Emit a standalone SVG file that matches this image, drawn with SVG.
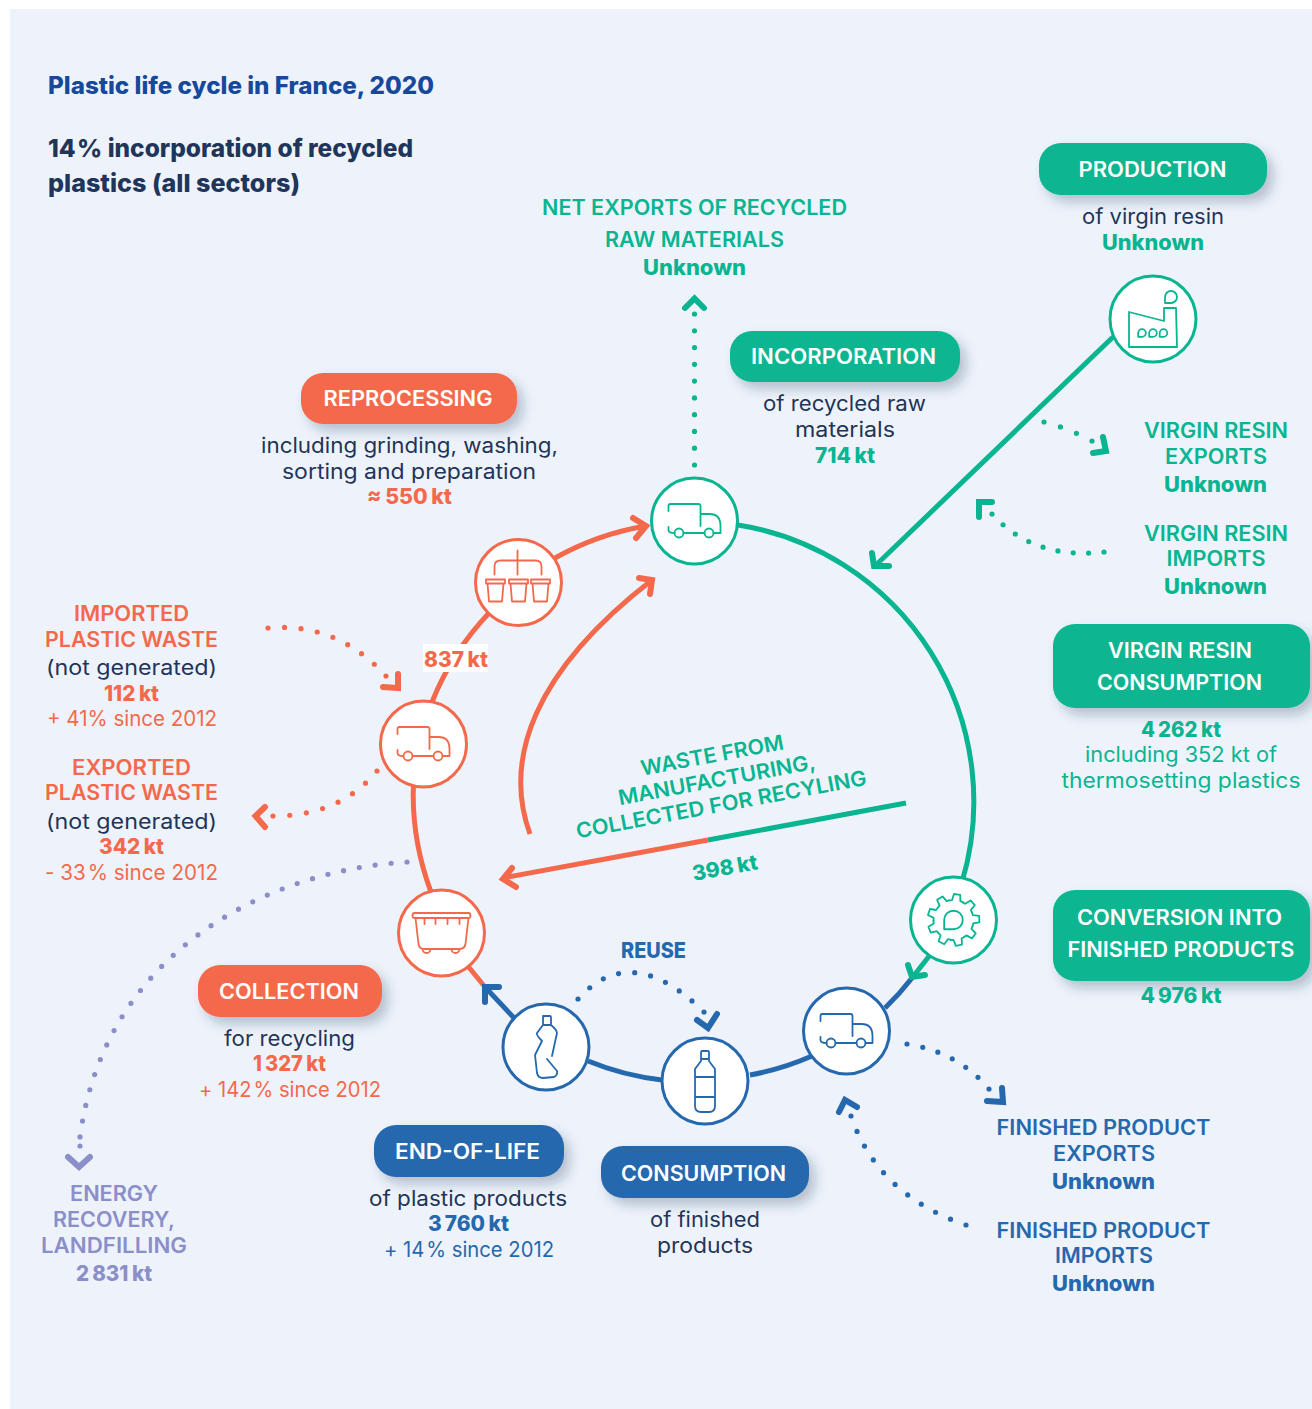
<svg xmlns="http://www.w3.org/2000/svg" width="1312" height="1409" viewBox="0 0 1312 1409">
<style>
text{font-family:"Inter","Liberation Sans",sans-serif;text-anchor:middle;font-size:21px;font-weight:400}
.l{text-anchor:start}
.cap{font-weight:600}
.b{font-weight:800;word-spacing:-1px}
.t{word-spacing:-4px}
.b .t{word-spacing:-1.500px}
.w{fill:#fff;font-weight:600}
.nv{fill:#1f3559}
.g{fill:#09b591}.o{fill:#f4694c}.u{fill:#2668ae}.p{fill:#8b8fc9}
.pill{filter:url(#sh)}
.ring{fill:none;stroke-width:5;stroke-linecap:butt}
.head{fill:none;stroke-width:6;stroke-linecap:round;stroke-linejoin:miter}
.dot{fill:none;stroke-width:5.200;stroke-linecap:round;stroke-dasharray:0 .9999}
.sg{stroke:#09b591}.so{stroke:#f4694c}.su{stroke:#2668ae}.sp{stroke:#8b8fc9}
.node{fill:#fff;stroke-width:3}
.ic{fill:none;stroke-width:1.800;stroke-linecap:round;stroke-linejoin:round}
</style>
<defs>
<filter id="sh" x="-20%" y="-40%" width="150%" height="200%"><feDropShadow dx="6" dy="7" stdDeviation="6" flood-color="#1f3559" flood-opacity="0.28"/></filter>
<g id="truck"><path d="M-26 -10V-15Q-26 -17 -24 -17H4Q6 -17 6 -15V5M6 -7H15Q26 -7 26 5V12H19M-11 12H10M-26 6V9Q-26 12 -20 12"/><circle cx="-15.500" cy="12" r="4.500"/><circle cx="14.500" cy="12" r="4.500"/></g>
<path id="tooth" d="M-6.840 -18.790A20 20 0 0 1 -4.160 -19.560L-3.170 -25.800L3.170 -25.800L4.160 -19.560A20 20 0 0 1 6.840 -18.790"/>
<path id="drop" d="M-1 1V0A1 1 0 1 1 0 1Z"/>
<path id="cup" d="M-9.500 -3H9.500V1H-9.500ZM-8 1L-6.500 19H6.500L8 1"/>
</defs>
<rect x="10" y="9" width="1302" height="1400" fill="#eef3fb"/>

<g id="connectors">
<path class="ring sg" d="M738 525A280 280 0 0 1 962 882"/>
<path class="ring sg" d="M930 955L912 978"/>
<path class="ring su" d="M912 978A280 280 0 0 1 885 1008"/>
<path class="ring su" d="M812 1056A280 280 0 0 1 750 1075"/>
<path class="ring su" d="M662 1080A280 280 0 0 1 588 1061"/>
<path class="ring su" d="M515 1019L485 987"/>
<path class="ring so" d="M485 987L467 965"/>
<path class="ring so" d="M431 892A280 280 0 0 1 416 755"/>
<path class="ring so" d="M432 702A280 280 0 0 1 490 612"/>
<path class="ring so" d="M555 558A280 280 0 0 1 646 526"/>
<path class="ring so" d="M530 834C503 760 533 672 652 580" stroke-linecap="round"/>
<path class="ring sg" d="M1113 337L875 566"/>
<path class="ring sg" d="M906 803L708 840" stroke-linecap="round"/>
<path class="ring so" d="M708 840L503 878"/>
<polyline class="head so" points="633,518 646,526 636,538"/>
<polyline class="head so" points="639,578 652,580 650,594"/>
<polyline class="head so" points="512,868 503,879 516,887"/>
<polyline class="head sg" points="872,553 874,566 889,566"/>
<polyline class="head sg" points="908,965 912,977 925,975"/>
<polyline class="head su" points="485,1002 485,987 499,987"/>
<path class="dot sg" pathLength="9" d="M694.500 465V314"/>
<polyline class="head sg" points="685,308 694.500,298.500 704,308"/>
<path class="dot sg" pathLength="3" d="M1044 422Q1068 428 1092 441"/>
<polyline class="head sg" points="1103,437 1106,451 1093,453"/>
<path class="dot sg" pathLength="8" d="M1104 552Q1034 560 992 514"/>
<polyline class="head sg" points="992,502 979,502 979,517"/>
<path class="dot so" pathLength="8" d="M268 628Q337 622 386 676"/>
<polyline class="head so" points="398,674 398,688 383,687"/>
<path class="dot so" pathLength="7" d="M377 771Q340 816 273 816"/>
<polyline class="head so" points="265,807 255.500,816 265,827"/>
<path class="dot sp" pathLength="29" d="M407 862C270 870 105 950 80 1137"/>
<path class="dot sp" d="M80 1146L80 1146.010"/>
<polyline class="head sp" points="68,1157 79,1167 90,1157"/>
<path class="dot su" pathLength="9" d="M578 999Q631 940 704 1012"/>
<polyline class="head su" points="697,1020 708,1028 717,1014"/>
<path class="dot su" pathLength="6" d="M907 1044Q958 1052 989 1089"/>
<polyline class="head su" points="987,1101 1003,1102 1002,1088"/>
<path class="dot su" pathLength="10" d="M966 1225Q878 1195 851 1116"/>
<polyline class="head su" points="839,1112 845,1100 857,1107"/>
</g>

<g id="title">
<text class="l" x="48" y="94" style="font-size:24px;font-weight:800;fill:#16499b" textLength="386" lengthAdjust="spacingAndGlyphs">Plastic life cycle in France, 2020</text>
<text class="l nv" x="48" y="157" style="font-size:25px;font-weight:800" textLength="365" lengthAdjust="spacingAndGlyphs"><tspan class="t">14 %</tspan> incorporation of recycled</text>
<text class="l nv" x="48" y="192" style="font-size:25px;font-weight:800" textLength="252" lengthAdjust="spacingAndGlyphs">plastics (all sectors)</text>
</g>

<g id="node-net-exports">
<text class="cap g" x="694.500" y="215" textLength="305" lengthAdjust="spacingAndGlyphs">NET EXPORTS OF RECYCLED</text>
<text class="cap g" x="694.500" y="247" textLength="179" lengthAdjust="spacingAndGlyphs">RAW MATERIALS</text>
<text class="b g" x="694.500" y="275" textLength="103" lengthAdjust="spacingAndGlyphs">Unknown</text>
</g>

<g id="node-production">
<rect class="pill g" x="1039" y="143" width="228" height="52" rx="22"/>
<text class="w" x="1152.500" y="177" textLength="148" lengthAdjust="spacingAndGlyphs">PRODUCTION</text>
<text class="nv" x="1153" y="224" textLength="142" lengthAdjust="spacingAndGlyphs">of virgin resin</text>
<text class="b g" x="1153" y="250" textLength="102" lengthAdjust="spacingAndGlyphs">Unknown</text>
<circle class="node sg" cx="1153" cy="319" r="43"/>
<g class="ic sg" transform="translate(1153 319)"><path d="M-24 -7L11 2V-11H23L24 28H-24Z"/><use href="#drop" transform="translate(18 -22) scale(6)" style="stroke-width:.3"/><use href="#drop" transform="translate(-11 14) scale(3.800)" style="stroke-width:.47"/><use href="#drop" transform="translate(0 14) scale(3.800)" style="stroke-width:.47"/><use href="#drop" transform="translate(10.500 14) scale(3.800)" style="stroke-width:.47"/></g>
</g>

<g id="node-incorporation">
<rect class="pill g" x="730" y="331" width="230" height="51" rx="22"/>
<text class="w" x="843.500" y="364" textLength="185" lengthAdjust="spacingAndGlyphs">INCORPORATION</text>
<text class="nv" x="844.500" y="411" textLength="163" lengthAdjust="spacingAndGlyphs">of recycled raw</text>
<text class="nv" x="845" y="437" textLength="100" lengthAdjust="spacingAndGlyphs">materials</text>
<text class="b g" x="845" y="463" textLength="60" lengthAdjust="spacingAndGlyphs">714 kt</text>
<circle class="node sg" cx="694.500" cy="521" r="43"/>
<use href="#truck" class="ic sg" transform="translate(694.500 521)"/>
</g>

<g id="node-reprocessing">
<rect class="pill o" x="301" y="373" width="216" height="51" rx="22"/>
<text class="w" x="408" y="406" textLength="169" lengthAdjust="spacingAndGlyphs">REPROCESSING</text>
<text class="nv" x="409.500" y="453" textLength="297" lengthAdjust="spacingAndGlyphs">including grinding, washing,</text>
<text class="nv" x="409" y="479" textLength="254" lengthAdjust="spacingAndGlyphs">sorting and preparation</text>
<text class="b o" x="409.500" y="504" textLength="85" lengthAdjust="spacingAndGlyphs">≈ 550 kt</text>
<circle class="node so" cx="518.500" cy="582.500" r="43"/>
<g class="ic so" transform="translate(518.500 582.500)"><path d="M-1 -32V-8M-24 -8V-16Q-24 -22 -18 -22H17Q23 -22 23 -16V-8"/><use href="#cup" x="-23"/><use href="#cup"/><use href="#cup" x="22"/></g>
</g>

<g id="node-virgin-exports">
<text class="cap g" x="1216" y="438" textLength="144" lengthAdjust="spacingAndGlyphs">VIRGIN RESIN</text>
<text class="cap g" x="1216" y="464" textLength="102" lengthAdjust="spacingAndGlyphs">EXPORTS</text>
<text class="b g" x="1215.500" y="492" textLength="103" lengthAdjust="spacingAndGlyphs">Unknown</text>
</g>
<g id="node-virgin-imports">
<text class="cap g" x="1216" y="541" textLength="144" lengthAdjust="spacingAndGlyphs">VIRGIN RESIN</text>
<text class="cap g" x="1216" y="566" textLength="99" lengthAdjust="spacingAndGlyphs">IMPORTS</text>
<text class="b g" x="1215.500" y="594" textLength="103" lengthAdjust="spacingAndGlyphs">Unknown</text>
</g>

<g id="node-virgin-consumption">
<rect class="pill g" x="1053" y="624" width="257" height="84" rx="22"/>
<text class="w" x="1180" y="658" textLength="144" lengthAdjust="spacingAndGlyphs">VIRGIN RESIN</text>
<text class="w" x="1179.500" y="690" textLength="165" lengthAdjust="spacingAndGlyphs">CONSUMPTION</text>
<text class="b g" x="1181" y="737" textLength="80" lengthAdjust="spacingAndGlyphs"><tspan class="t">4 262</tspan> kt</text>
<text class="g" x="1181" y="762" textLength="192" lengthAdjust="spacingAndGlyphs">including 352 kt of</text>
<text class="g" x="1181" y="788" textLength="239" lengthAdjust="spacingAndGlyphs">thermosetting plastics</text>
</g>

<g id="node-conversion">
<rect class="pill g" x="1053" y="890" width="257" height="91" rx="22"/>
<text class="w" x="1179.500" y="925" textLength="205" lengthAdjust="spacingAndGlyphs">CONVERSION INTO</text>
<text class="w" x="1181" y="957" textLength="227" lengthAdjust="spacingAndGlyphs">FINISHED PRODUCTS</text>
<text class="b g" x="1181" y="1003" textLength="81" lengthAdjust="spacingAndGlyphs"><tspan class="t">4 976</tspan> kt</text>
<circle class="node sg" cx="953.500" cy="920" r="43"/>
<g class="ic sg" transform="translate(953.500 920)"><use href="#tooth" transform="rotate(8)"/><use href="#tooth" transform="rotate(48)"/><use href="#tooth" transform="rotate(88)"/><use href="#tooth" transform="rotate(128)"/><use href="#tooth" transform="rotate(168)"/><use href="#tooth" transform="rotate(208)"/><use href="#tooth" transform="rotate(248)"/><use href="#tooth" transform="rotate(288)"/><use href="#tooth" transform="rotate(328)"/><use href="#drop" transform="scale(9.300)" style="stroke-width:.2"/></g>
</g>

<g id="node-imported-waste">
<text class="cap o" x="131.500" y="621" textLength="115" lengthAdjust="spacingAndGlyphs">IMPORTED</text>
<text class="cap o" x="131.500" y="647" textLength="173" lengthAdjust="spacingAndGlyphs">PLASTIC WASTE</text>
<text class="nv" x="131.500" y="675" textLength="171" lengthAdjust="spacingAndGlyphs">(not generated)</text>
<text class="b o" x="131.500" y="701" textLength="55" lengthAdjust="spacingAndGlyphs">112 kt</text>
<text class="o" x="132" y="726" textLength="170" lengthAdjust="spacingAndGlyphs">+ 41% since 2012</text>
</g>
<g id="node-exported-waste">
<text class="cap o" x="131.500" y="775" textLength="119" lengthAdjust="spacingAndGlyphs">EXPORTED</text>
<text class="cap o" x="131.500" y="800" textLength="173" lengthAdjust="spacingAndGlyphs">PLASTIC WASTE</text>
<text class="nv" x="131.500" y="829" textLength="171" lengthAdjust="spacingAndGlyphs">(not generated)</text>
<text class="b o" x="131.500" y="854" textLength="65" lengthAdjust="spacingAndGlyphs">342 kt</text>
<text class="o" x="131.500" y="880" textLength="173" lengthAdjust="spacingAndGlyphs">- <tspan class="t">33 %</tspan> since 2012</text>
</g>

<g id="label-837">
<rect x="423" y="644" width="65" height="28" fill="#fff"/>
<text class="b o" x="456" y="667" textLength="64" lengthAdjust="spacingAndGlyphs">837 kt</text>
</g>

<g id="node-transport-waste">
<circle class="node so" cx="423.500" cy="744" r="43"/>
<use href="#truck" class="ic so" transform="translate(423.500 744)"/>
</g>

<g id="label-waste" transform="rotate(-10.500 718 787)">
<text class="cap g" x="718" y="762" textLength="145" lengthAdjust="spacingAndGlyphs">WASTE FROM</text>
<text class="cap g" x="718" y="787" textLength="200" lengthAdjust="spacingAndGlyphs">MANUFACTURING,</text>
<text class="cap g" x="718" y="812" textLength="295" lengthAdjust="spacingAndGlyphs">COLLECTED FOR RECYLING</text>
<text class="b g" x="710" y="875" textLength="66" lengthAdjust="spacingAndGlyphs">398 kt</text>
</g>

<g id="node-collection">
<rect class="pill o" x="198" y="965" width="184" height="52" rx="22"/>
<text class="w" x="289" y="999" textLength="140" lengthAdjust="spacingAndGlyphs">COLLECTION</text>
<text class="nv" x="289.500" y="1046" textLength="131" lengthAdjust="spacingAndGlyphs">for recycling</text>
<text class="b o" x="289.500" y="1071" textLength="73" lengthAdjust="spacingAndGlyphs"><tspan class="t">1 327</tspan> kt</text>
<text class="o" x="290" y="1097" textLength="182" lengthAdjust="spacingAndGlyphs">+ <tspan class="t">142 %</tspan> since 2012</text>
<circle class="node so" cx="441.500" cy="933" r="43"/>
<g class="ic so" transform="translate(441.500 933)"><path d="M-27 -20H27Q29 -20 29 -17.500Q29 -15 27 -15H-27Q-29 -15 -29 -17.500Q-29 -20 -27 -20ZM-26 -15L-23 11Q-22 16 -18 16H18Q23 16 24 11L27 -15M-17 -15V-9M-6 -15V-9M6 -15V-9M18 -15V-9M-19 16A4 4 0 0 0 -11 16M10 16A4 4 0 0 0 18 16"/></g>
</g>

<g id="node-end-of-life">
<rect class="pill u" x="374" y="1125" width="190" height="52" rx="22"/>
<text class="w" x="467.500" y="1159" textLength="145" lengthAdjust="spacingAndGlyphs">END-OF-LIFE</text>
<text class="nv" x="468" y="1206" textLength="198" lengthAdjust="spacingAndGlyphs">of plastic products</text>
<text class="b u" x="468.500" y="1231" textLength="81" lengthAdjust="spacingAndGlyphs"><tspan class="t">3 760</tspan> kt</text>
<text class="u" x="469" y="1257" textLength="170" lengthAdjust="spacingAndGlyphs">+ <tspan class="t">14 %</tspan> since 2012</text>
<circle class="node su" cx="546" cy="1047" r="43"/>
<g class="ic su" transform="translate(546 1047)"><path d="M-3 -31H4Q5 -31 5 -29V-22H-3V-29Q-3 -31 -1 -31ZM-3 -22L-9 -14Q-10 -12 -4 -6L-11 8L-9 26Q-8 31 -3 31L8 30Q12 28 11 24L1 12M6 9L11 -14Q11 -17 5 -22"/></g>
</g>

<g id="label-reuse"><text class="b u" x="653.500" y="958" textLength="65" lengthAdjust="spacingAndGlyphs">REUSE</text></g>

<g id="node-consumption">
<rect class="pill u" x="601" y="1146" width="208" height="52" rx="22"/>
<text class="w" x="703.500" y="1180.500" textLength="165" lengthAdjust="spacingAndGlyphs">CONSUMPTION</text>
<text class="nv" x="705" y="1227" textLength="110" lengthAdjust="spacingAndGlyphs">of finished</text>
<text class="nv" x="705" y="1253" textLength="96" lengthAdjust="spacingAndGlyphs">products</text>
<circle class="node su" cx="705" cy="1081" r="43"/>
<g class="ic su" transform="translate(705 1081)"><path d="M-3 -30H3Q4 -30 4 -28V-22H-4V-28Q-4 -30 -3 -30ZM-4 -22V-20L-10 -12V25Q-10 31 -4 31H4Q10 31 10 25V-12L4 -20V-22M-10 -4H10M-10 16H10"/></g>
</g>

<g id="node-finished-transport">
<circle class="node su" cx="846.500" cy="1031" r="43"/>
<use href="#truck" class="ic su" transform="translate(846.500 1031)"/>
</g>

<g id="node-finished-exports">
<text class="cap u" x="1103.500" y="1135" textLength="214" lengthAdjust="spacingAndGlyphs">FINISHED PRODUCT</text>
<text class="cap u" x="1104" y="1161" textLength="102" lengthAdjust="spacingAndGlyphs">EXPORTS</text>
<text class="b u" x="1103.500" y="1189" textLength="103" lengthAdjust="spacingAndGlyphs">Unknown</text>
</g>
<g id="node-finished-imports">
<text class="cap u" x="1103.500" y="1238" textLength="214" lengthAdjust="spacingAndGlyphs">FINISHED PRODUCT</text>
<text class="cap u" x="1104" y="1263" textLength="98" lengthAdjust="spacingAndGlyphs">IMPORTS</text>
<text class="b u" x="1103.500" y="1291" textLength="103" lengthAdjust="spacingAndGlyphs">Unknown</text>
</g>

<g id="node-energy">
<text class="cap p" x="114" y="1201" textLength="88" lengthAdjust="spacingAndGlyphs">ENERGY</text>
<text class="cap p" x="114" y="1227" textLength="122" lengthAdjust="spacingAndGlyphs">RECOVERY,</text>
<text class="cap p" x="114" y="1253" textLength="146" lengthAdjust="spacingAndGlyphs">LANDFILLING</text>
<text class="b p" x="114" y="1281" textLength="76" lengthAdjust="spacingAndGlyphs"><tspan class="t">2 831</tspan> kt</text>
</g>
</svg>
